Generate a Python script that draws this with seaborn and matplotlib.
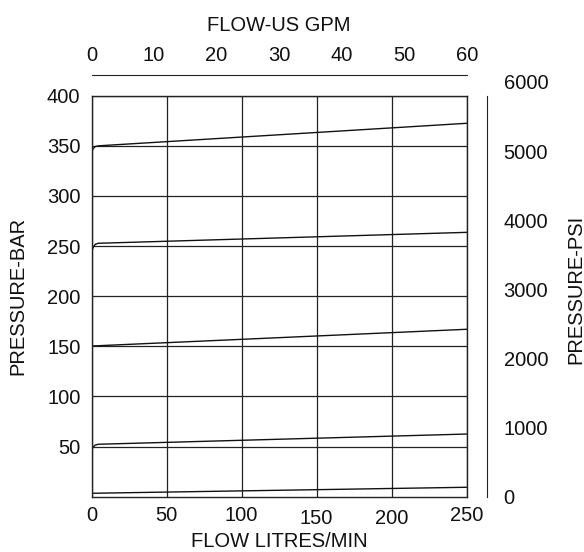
import matplotlib
matplotlib.use('Agg')
import matplotlib.pyplot as plt
import matplotlib.transforms as mtransforms
import seaborn as sns
import pandas as pd

# pressure curves (flow in litres/min, pressure in bar)
curve_names = ['c1', 'c2', 'c3', 'c4', 'c5']
flow_c1 = [0, 250]
bar_c1 = [3.4, 9.4]
flow_c2 = [0, 1, 2.5, 4.5, 250]
bar_c2 = [46, 49.5, 51.5, 52.3, 62.5]
flow_c3 = [0, 250]
bar_c3 = [150.3, 167]
flow_c4 = [0, 1, 2.5, 4.5, 250]
bar_c4 = [243, 248.5, 251.8, 252.8, 263.7]
flow_c5 = [0, 1, 2.5, 4.5, 250]
bar_c5 = [343, 347, 349.3, 350, 372.5]

x_ticks = [0, 50, 100, 150, 200, 250]
y_ticks = [50, 100, 150, 200, 250, 300, 350, 400]
gpm_ticks = [0, 10, 20, 30, 40, 50, 60]
psi_ticks = [0, 1000, 2000, 3000, 4000, 5000, 6000]
PSI_PER_BAR = 14.5038

rows = []
for name, fl, br in zip(curve_names,
                        [flow_c1, flow_c2, flow_c3, flow_c4, flow_c5],
                        [bar_c1, bar_c2, bar_c3, bar_c4, bar_c5]):
    for f, b in zip(fl, br):
        rows.append({'curve': name, 'flow': f, 'bar': b})
df = pd.DataFrame(rows)

sns.set_style('white')
plt.rcParams['font.family'] = ['Liberation Sans', 'DejaVu Sans']
plt.rcParams['text.color'] = '#111111'
plt.rcParams['axes.labelcolor'] = '#111111'
fs = 14.5

fig = plt.figure(figsize=(5.84, 5.52), dpi=100)
L, B, W, H = 0.1567, 0.1002, 0.6425, 0.7264
ax = fig.add_axes([L, B, W, H])

sns.lineplot(data=df, x='flow', y='bar', units='curve', estimator=None,
             color='#111111', lw=1.0, ax=ax, legend=False)

ax.set_xlim(0, 250)
ax.set_ylim(0, 400)
ax.set_xticks(x_ticks)
ax.set_yticks(y_ticks)
ax.grid(True, color='#222222', lw=0.9)
ax.tick_params(axis='x', length=0, labelsize=fs, pad=7, colors='#111111')
ax.tick_params(axis='y', length=0, labelsize=fs, pad=8, colors='#111111')
for s in ax.spines.values():
    s.set_color('#222222')
    s.set_linewidth(1.0)
ax.set_xlabel('FLOW LITRES/MIN', fontsize=fs, labelpad=3)
ax.set_ylabel('PRESSURE-BAR', fontsize=fs, labelpad=14)

# 150 and 200 sit a little lower in the original
shift = mtransforms.ScaledTranslation(0, -2.5 / 100, fig.dpi_scale_trans)
for lbl in ax.get_xticklabels()[3:5]:
    lbl.set_transform(lbl.get_transform() + shift)

# top axis: US GPM
ax2 = ax.twiny()
ax2.set_xlim(0, 60)
ax2.set_xticks(gpm_ticks)
for k in ['left', 'right', 'bottom']:
    ax2.spines[k].set_visible(False)
ax2.spines['top'].set_position(('outward', 15))
ax2.spines['top'].set_color('#222222')
ax2.tick_params(axis='x', length=0, labelsize=fs, pad=7, colors='#111111')
ax2.tick_params(axis='y', left=False, right=False, labelleft=False, labelright=False)
ax2.grid(False)
ax2.set_xlabel('FLOW-US GPM', fontsize=fs, labelpad=11)

# right axis: PSI
H_psi = H * 6000 / (400 * PSI_PER_BAR)
ax3 = fig.add_axes([L, B, W, H_psi])
ax3.patch.set_visible(False)
ax3.set_ylim(0, 6000)
ax3.set_xticks([])
ax3.yaxis.tick_right()
ax3.yaxis.set_label_position('right')
ax3.set_yticks(psi_ticks)
for k in ['left', 'top', 'bottom']:
    ax3.spines[k].set_visible(False)
ax3.spines['right'].set_position(('outward', 14.5))
ax3.spines['right'].set_bounds(0, 400 * PSI_PER_BAR)
ax3.spines['right'].set_color('#222222')
ax3.tick_params(axis='y', length=0, labelsize=fs, pad=12, colors='#111111')
ax3.set_ylabel('PRESSURE-PSI', fontsize=fs, labelpad=13)

fig.savefig('out.png', dpi=100)
